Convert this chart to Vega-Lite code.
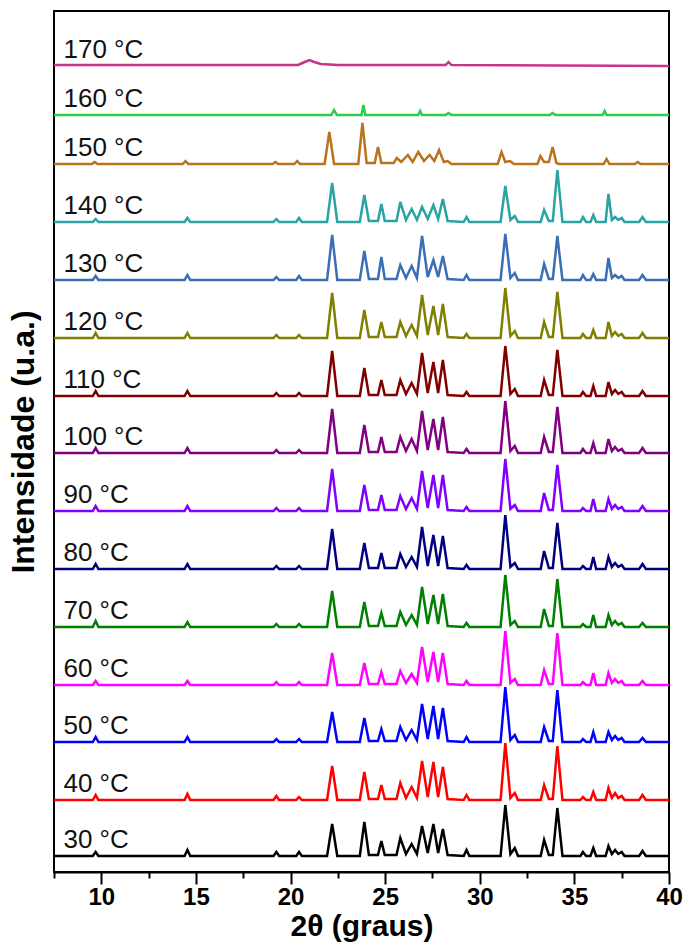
{
"$schema": "https://vega.github.io/schema/vega-lite/v6.json",
"width": 615, "height": 861,
"autosize": {"type": "none"},
"padding": {"left": 54, "top": 11, "right": 17, "bottom": 80},
"background": "white",
"config": {"view": {"stroke": "black", "strokeWidth": 2}, "font": "Liberation Sans"},
"datasets": {
"labels": [{"s":30,"t":"30 °C"},{"s":40,"t":"40 °C"},{"s":50,"t":"50 °C"},{"s":60,"t":"60 °C"},{"s":70,"t":"70 °C"},{"s":80,"t":"80 °C"},{"s":90,"t":"90 °C"},{"s":100,"t":"100 °C"},{"s":110,"t":"110 °C"},{"s":120,"t":"120 °C"},{"s":130,"t":"130 °C"},{"s":140,"t":"140 °C"},{"s":150,"t":"150 °C"},{"s":160,"t":"160 °C"},{"s":170,"t":"170 °C"}],
"xrd": [
{"s":30,"x":7.5,"y":16},{"s":30,"x":9.55,"y":16},{"s":30,"x":9.7,"y":20},{"s":30,"x":9.85,"y":16},{"s":30,"x":14.4,"y":16},{"s":30,"x":14.55,"y":22},{"s":30,"x":14.7,"y":16},{"s":30,"x":19.1,"y":16},{"s":30,"x":19.25,"y":20},{"s":30,"x":19.4,"y":16},{"s":30,"x":20.3,"y":16},{"s":30,"x":20.45,"y":20},{"s":30,"x":20.6,"y":16},{"s":30,"x":21.93,"y":16},{"s":30,"x":22.2,"y":48},{"s":30,"x":22.47,"y":16},{"s":30,"x":23.66,"y":16},{"s":30,"x":23.9,"y":50},{"s":30,"x":24.14,"y":17},{"s":30,"x":24.62,"y":17},{"s":30,"x":24.8,"y":31},{"s":30,"x":24.98,"y":17},{"s":30,"x":25.6,"y":17},{"s":30,"x":25.8,"y":34},{"s":30,"x":26.1,"y":18},{"s":30,"x":26.4,"y":28},{"s":30,"x":26.68,"y":18},{"s":30,"x":26.95,"y":46},{"s":30,"x":27.25,"y":19},{"s":30,"x":27.55,"y":48},{"s":30,"x":27.8,"y":19},{"s":30,"x":28.05,"y":43},{"s":30,"x":28.3,"y":17},{"s":30,"x":29.15,"y":16},{"s":30,"x":29.3,"y":22},{"s":30,"x":29.45,"y":16},{"s":30,"x":31.1,"y":16},{"s":30,"x":31.35,"y":67},{"s":30,"x":31.62,"y":18},{"s":30,"x":31.85,"y":24},{"s":30,"x":32.02,"y":16},{"s":30,"x":33.22,"y":16},{"s":30,"x":33.4,"y":32},{"s":30,"x":33.65,"y":17},{"s":30,"x":33.86,"y":17},{"s":30,"x":34.1,"y":64},{"s":30,"x":34.37,"y":16},{"s":30,"x":35.32,"y":16},{"s":30,"x":35.45,"y":20},{"s":30,"x":35.62,"y":16},{"s":30,"x":35.85,"y":16},{"s":30,"x":36.0,"y":24},{"s":30,"x":36.15,"y":16},{"s":30,"x":36.65,"y":16},{"s":30,"x":36.8,"y":26},{"s":30,"x":36.98,"y":18},{"s":30,"x":37.15,"y":22},{"s":30,"x":37.32,"y":18},{"s":30,"x":37.5,"y":20},{"s":30,"x":37.65,"y":16},{"s":30,"x":38.42,"y":16},{"s":30,"x":38.6,"y":21},{"s":30,"x":38.78,"y":16},{"s":30,"x":40,"y":16},
{"s":40,"x":7.5,"y":72},{"s":40,"x":9.55,"y":72},{"s":40,"x":9.7,"y":77},{"s":40,"x":9.85,"y":72},{"s":40,"x":14.4,"y":72},{"s":40,"x":14.55,"y":78},{"s":40,"x":14.7,"y":72},{"s":40,"x":19.1,"y":72},{"s":40,"x":19.25,"y":76},{"s":40,"x":19.4,"y":72},{"s":40,"x":20.3,"y":72},{"s":40,"x":20.45,"y":75},{"s":40,"x":20.6,"y":72},{"s":40,"x":21.93,"y":72},{"s":40,"x":22.2,"y":106},{"s":40,"x":22.47,"y":72},{"s":40,"x":23.66,"y":72},{"s":40,"x":23.9,"y":100},{"s":40,"x":24.14,"y":73},{"s":40,"x":24.62,"y":73},{"s":40,"x":24.8,"y":87},{"s":40,"x":24.98,"y":73},{"s":40,"x":25.6,"y":73},{"s":40,"x":25.8,"y":89},{"s":40,"x":26.1,"y":74},{"s":40,"x":26.4,"y":85},{"s":40,"x":26.68,"y":74},{"s":40,"x":26.95,"y":111},{"s":40,"x":27.25,"y":75},{"s":40,"x":27.55,"y":110},{"s":40,"x":27.8,"y":75},{"s":40,"x":28.05,"y":105},{"s":40,"x":28.3,"y":73},{"s":40,"x":29.15,"y":72},{"s":40,"x":29.3,"y":77},{"s":40,"x":29.45,"y":72},{"s":40,"x":31.1,"y":72},{"s":40,"x":31.35,"y":129},{"s":40,"x":31.62,"y":74},{"s":40,"x":31.85,"y":79},{"s":40,"x":32.02,"y":72},{"s":40,"x":33.22,"y":72},{"s":40,"x":33.4,"y":87},{"s":40,"x":33.65,"y":73},{"s":40,"x":33.86,"y":73},{"s":40,"x":34.1,"y":126},{"s":40,"x":34.37,"y":72},{"s":40,"x":35.32,"y":72},{"s":40,"x":35.45,"y":75},{"s":40,"x":35.62,"y":72},{"s":40,"x":35.85,"y":72},{"s":40,"x":36.0,"y":80},{"s":40,"x":36.15,"y":72},{"s":40,"x":36.65,"y":72},{"s":40,"x":36.8,"y":84},{"s":40,"x":36.98,"y":74},{"s":40,"x":37.15,"y":79},{"s":40,"x":37.32,"y":74},{"s":40,"x":37.5,"y":76},{"s":40,"x":37.65,"y":72},{"s":40,"x":38.42,"y":72},{"s":40,"x":38.6,"y":77},{"s":40,"x":38.78,"y":72},{"s":40,"x":40,"y":72},
{"s":50,"x":7.5,"y":130},{"s":50,"x":9.55,"y":130},{"s":50,"x":9.7,"y":135},{"s":50,"x":9.85,"y":130},{"s":50,"x":14.4,"y":130},{"s":50,"x":14.55,"y":135},{"s":50,"x":14.7,"y":130},{"s":50,"x":19.1,"y":130},{"s":50,"x":19.25,"y":133},{"s":50,"x":19.4,"y":130},{"s":50,"x":20.3,"y":130},{"s":50,"x":20.45,"y":133},{"s":50,"x":20.6,"y":130},{"s":50,"x":21.93,"y":130},{"s":50,"x":22.2,"y":160},{"s":50,"x":22.47,"y":130},{"s":50,"x":23.66,"y":130},{"s":50,"x":23.9,"y":154},{"s":50,"x":24.14,"y":131},{"s":50,"x":24.62,"y":131},{"s":50,"x":24.8,"y":143},{"s":50,"x":24.98,"y":131},{"s":50,"x":25.6,"y":131},{"s":50,"x":25.8,"y":145},{"s":50,"x":26.1,"y":132},{"s":50,"x":26.4,"y":142},{"s":50,"x":26.68,"y":132},{"s":50,"x":26.95,"y":168},{"s":50,"x":27.25,"y":133},{"s":50,"x":27.55,"y":166},{"s":50,"x":27.8,"y":133},{"s":50,"x":28.05,"y":164},{"s":50,"x":28.3,"y":131},{"s":50,"x":29.15,"y":130},{"s":50,"x":29.3,"y":135},{"s":50,"x":29.45,"y":130},{"s":50,"x":31.1,"y":130},{"s":50,"x":31.35,"y":185},{"s":50,"x":31.62,"y":132},{"s":50,"x":31.85,"y":137},{"s":50,"x":32.02,"y":130},{"s":50,"x":33.22,"y":130},{"s":50,"x":33.4,"y":145},{"s":50,"x":33.65,"y":131},{"s":50,"x":33.86,"y":131},{"s":50,"x":34.1,"y":182},{"s":50,"x":34.37,"y":130},{"s":50,"x":35.32,"y":130},{"s":50,"x":35.45,"y":133},{"s":50,"x":35.62,"y":130},{"s":50,"x":35.85,"y":130},{"s":50,"x":36.0,"y":140},{"s":50,"x":36.15,"y":130},{"s":50,"x":36.65,"y":130},{"s":50,"x":36.8,"y":140},{"s":50,"x":36.98,"y":132},{"s":50,"x":37.15,"y":136},{"s":50,"x":37.32,"y":132},{"s":50,"x":37.5,"y":134},{"s":50,"x":37.65,"y":130},{"s":50,"x":38.42,"y":130},{"s":50,"x":38.6,"y":134},{"s":50,"x":38.78,"y":130},{"s":50,"x":40,"y":130},
{"s":60,"x":7.5,"y":187},{"s":60,"x":9.55,"y":187},{"s":60,"x":9.7,"y":191},{"s":60,"x":9.85,"y":187},{"s":60,"x":14.4,"y":187},{"s":60,"x":14.55,"y":191},{"s":60,"x":14.7,"y":187},{"s":60,"x":19.1,"y":187},{"s":60,"x":19.25,"y":190},{"s":60,"x":19.4,"y":187},{"s":60,"x":20.3,"y":187},{"s":60,"x":20.45,"y":190},{"s":60,"x":20.6,"y":187},{"s":60,"x":21.93,"y":187},{"s":60,"x":22.2,"y":219},{"s":60,"x":22.47,"y":187},{"s":60,"x":23.66,"y":187},{"s":60,"x":23.9,"y":209},{"s":60,"x":24.14,"y":188},{"s":60,"x":24.62,"y":188},{"s":60,"x":24.8,"y":200},{"s":60,"x":24.98,"y":188},{"s":60,"x":25.6,"y":188},{"s":60,"x":25.8,"y":201},{"s":60,"x":26.1,"y":189},{"s":60,"x":26.4,"y":198},{"s":60,"x":26.68,"y":189},{"s":60,"x":26.95,"y":225},{"s":60,"x":27.25,"y":190},{"s":60,"x":27.55,"y":220},{"s":60,"x":27.8,"y":190},{"s":60,"x":28.05,"y":219},{"s":60,"x":28.3,"y":188},{"s":60,"x":29.15,"y":187},{"s":60,"x":29.3,"y":191},{"s":60,"x":29.45,"y":187},{"s":60,"x":31.1,"y":187},{"s":60,"x":31.35,"y":241},{"s":60,"x":31.62,"y":189},{"s":60,"x":31.85,"y":193},{"s":60,"x":32.02,"y":187},{"s":60,"x":33.22,"y":187},{"s":60,"x":33.4,"y":202},{"s":60,"x":33.65,"y":188},{"s":60,"x":33.86,"y":188},{"s":60,"x":34.1,"y":239},{"s":60,"x":34.37,"y":187},{"s":60,"x":35.32,"y":187},{"s":60,"x":35.45,"y":190},{"s":60,"x":35.62,"y":187},{"s":60,"x":35.85,"y":187},{"s":60,"x":36.0,"y":199},{"s":60,"x":36.15,"y":187},{"s":60,"x":36.65,"y":187},{"s":60,"x":36.8,"y":199},{"s":60,"x":36.98,"y":189},{"s":60,"x":37.15,"y":193},{"s":60,"x":37.32,"y":189},{"s":60,"x":37.5,"y":191},{"s":60,"x":37.65,"y":187},{"s":60,"x":38.42,"y":187},{"s":60,"x":38.6,"y":191},{"s":60,"x":38.78,"y":187},{"s":60,"x":40,"y":187},
{"s":70,"x":7.5,"y":245},{"s":70,"x":9.55,"y":245},{"s":70,"x":9.7,"y":251},{"s":70,"x":9.85,"y":245},{"s":70,"x":14.4,"y":245},{"s":70,"x":14.55,"y":250},{"s":70,"x":14.7,"y":245},{"s":70,"x":19.1,"y":245},{"s":70,"x":19.25,"y":248},{"s":70,"x":19.4,"y":245},{"s":70,"x":20.3,"y":245},{"s":70,"x":20.45,"y":248},{"s":70,"x":20.6,"y":245},{"s":70,"x":21.93,"y":245},{"s":70,"x":22.2,"y":281},{"s":70,"x":22.47,"y":245},{"s":70,"x":23.66,"y":245},{"s":70,"x":23.9,"y":270},{"s":70,"x":24.14,"y":246},{"s":70,"x":24.62,"y":246},{"s":70,"x":24.8,"y":259},{"s":70,"x":24.98,"y":246},{"s":70,"x":25.6,"y":246},{"s":70,"x":25.8,"y":260},{"s":70,"x":26.1,"y":247},{"s":70,"x":26.4,"y":257},{"s":70,"x":26.68,"y":247},{"s":70,"x":26.95,"y":285},{"s":70,"x":27.25,"y":248},{"s":70,"x":27.55,"y":277},{"s":70,"x":27.8,"y":248},{"s":70,"x":28.05,"y":278},{"s":70,"x":28.3,"y":246},{"s":70,"x":29.15,"y":245},{"s":70,"x":29.3,"y":249},{"s":70,"x":29.45,"y":245},{"s":70,"x":31.1,"y":245},{"s":70,"x":31.35,"y":297},{"s":70,"x":31.62,"y":247},{"s":70,"x":31.85,"y":251},{"s":70,"x":32.02,"y":245},{"s":70,"x":33.22,"y":245},{"s":70,"x":33.4,"y":263},{"s":70,"x":33.65,"y":246},{"s":70,"x":33.86,"y":246},{"s":70,"x":34.1,"y":293},{"s":70,"x":34.37,"y":245},{"s":70,"x":35.32,"y":245},{"s":70,"x":35.45,"y":248},{"s":70,"x":35.62,"y":245},{"s":70,"x":35.85,"y":245},{"s":70,"x":36.0,"y":257},{"s":70,"x":36.15,"y":245},{"s":70,"x":36.65,"y":245},{"s":70,"x":36.8,"y":257},{"s":70,"x":36.98,"y":247},{"s":70,"x":37.15,"y":251},{"s":70,"x":37.32,"y":247},{"s":70,"x":37.5,"y":249},{"s":70,"x":37.65,"y":245},{"s":70,"x":38.42,"y":245},{"s":70,"x":38.6,"y":249},{"s":70,"x":38.78,"y":245},{"s":70,"x":40,"y":245},
{"s":80,"x":7.5,"y":303},{"s":80,"x":9.55,"y":303},{"s":80,"x":9.7,"y":308},{"s":80,"x":9.85,"y":303},{"s":80,"x":14.4,"y":303},{"s":80,"x":14.55,"y":308},{"s":80,"x":14.7,"y":303},{"s":80,"x":19.1,"y":303},{"s":80,"x":19.25,"y":306},{"s":80,"x":19.4,"y":303},{"s":80,"x":20.3,"y":303},{"s":80,"x":20.45,"y":306},{"s":80,"x":20.6,"y":303},{"s":80,"x":21.93,"y":303},{"s":80,"x":22.2,"y":343},{"s":80,"x":22.47,"y":303},{"s":80,"x":23.66,"y":303},{"s":80,"x":23.9,"y":329},{"s":80,"x":24.14,"y":304},{"s":80,"x":24.62,"y":304},{"s":80,"x":24.8,"y":319},{"s":80,"x":24.98,"y":304},{"s":80,"x":25.6,"y":304},{"s":80,"x":25.8,"y":318},{"s":80,"x":26.1,"y":305},{"s":80,"x":26.4,"y":315},{"s":80,"x":26.68,"y":305},{"s":80,"x":26.95,"y":345},{"s":80,"x":27.25,"y":306},{"s":80,"x":27.55,"y":337},{"s":80,"x":27.8,"y":306},{"s":80,"x":28.05,"y":336},{"s":80,"x":28.3,"y":304},{"s":80,"x":29.15,"y":303},{"s":80,"x":29.3,"y":307},{"s":80,"x":29.45,"y":303},{"s":80,"x":31.1,"y":303},{"s":80,"x":31.35,"y":357},{"s":80,"x":31.62,"y":305},{"s":80,"x":31.85,"y":309},{"s":80,"x":32.02,"y":303},{"s":80,"x":33.22,"y":303},{"s":80,"x":33.4,"y":321},{"s":80,"x":33.65,"y":304},{"s":80,"x":33.86,"y":304},{"s":80,"x":34.1,"y":349},{"s":80,"x":34.37,"y":303},{"s":80,"x":35.32,"y":303},{"s":80,"x":35.45,"y":306},{"s":80,"x":35.62,"y":303},{"s":80,"x":35.85,"y":303},{"s":80,"x":36.0,"y":315},{"s":80,"x":36.15,"y":303},{"s":80,"x":36.65,"y":303},{"s":80,"x":36.8,"y":315},{"s":80,"x":36.98,"y":305},{"s":80,"x":37.15,"y":309},{"s":80,"x":37.32,"y":305},{"s":80,"x":37.5,"y":307},{"s":80,"x":37.65,"y":303},{"s":80,"x":38.42,"y":303},{"s":80,"x":38.6,"y":308},{"s":80,"x":38.78,"y":303},{"s":80,"x":40,"y":303},
{"s":90,"x":7.5,"y":361},{"s":90,"x":9.55,"y":361},{"s":90,"x":9.7,"y":366},{"s":90,"x":9.85,"y":361},{"s":90,"x":14.4,"y":361},{"s":90,"x":14.55,"y":366},{"s":90,"x":14.7,"y":361},{"s":90,"x":19.1,"y":361},{"s":90,"x":19.25,"y":364},{"s":90,"x":19.4,"y":361},{"s":90,"x":20.3,"y":361},{"s":90,"x":20.45,"y":364},{"s":90,"x":20.6,"y":361},{"s":90,"x":21.93,"y":361},{"s":90,"x":22.2,"y":403},{"s":90,"x":22.47,"y":361},{"s":90,"x":23.66,"y":361},{"s":90,"x":23.9,"y":387},{"s":90,"x":24.14,"y":362},{"s":90,"x":24.62,"y":362},{"s":90,"x":24.8,"y":377},{"s":90,"x":24.98,"y":362},{"s":90,"x":25.6,"y":362},{"s":90,"x":25.8,"y":376},{"s":90,"x":26.1,"y":363},{"s":90,"x":26.4,"y":374},{"s":90,"x":26.68,"y":363},{"s":90,"x":26.95,"y":401},{"s":90,"x":27.25,"y":364},{"s":90,"x":27.55,"y":397},{"s":90,"x":27.8,"y":364},{"s":90,"x":28.05,"y":397},{"s":90,"x":28.3,"y":362},{"s":90,"x":29.15,"y":361},{"s":90,"x":29.3,"y":365},{"s":90,"x":29.45,"y":361},{"s":90,"x":31.1,"y":361},{"s":90,"x":31.35,"y":413},{"s":90,"x":31.62,"y":363},{"s":90,"x":31.85,"y":367},{"s":90,"x":32.02,"y":361},{"s":90,"x":33.22,"y":361},{"s":90,"x":33.4,"y":379},{"s":90,"x":33.65,"y":362},{"s":90,"x":33.86,"y":362},{"s":90,"x":34.1,"y":407},{"s":90,"x":34.37,"y":361},{"s":90,"x":35.32,"y":361},{"s":90,"x":35.45,"y":364},{"s":90,"x":35.62,"y":361},{"s":90,"x":35.85,"y":361},{"s":90,"x":36.0,"y":373},{"s":90,"x":36.15,"y":361},{"s":90,"x":36.65,"y":361},{"s":90,"x":36.8,"y":373},{"s":90,"x":36.98,"y":363},{"s":90,"x":37.15,"y":367},{"s":90,"x":37.32,"y":363},{"s":90,"x":37.5,"y":365},{"s":90,"x":37.65,"y":361},{"s":90,"x":38.42,"y":361},{"s":90,"x":38.6,"y":366},{"s":90,"x":38.78,"y":361},{"s":90,"x":40,"y":361},
{"s":100,"x":7.5,"y":419},{"s":100,"x":9.55,"y":419},{"s":100,"x":9.7,"y":424},{"s":100,"x":9.85,"y":419},{"s":100,"x":14.4,"y":419},{"s":100,"x":14.55,"y":424},{"s":100,"x":14.7,"y":419},{"s":100,"x":19.1,"y":419},{"s":100,"x":19.25,"y":422},{"s":100,"x":19.4,"y":419},{"s":100,"x":20.3,"y":419},{"s":100,"x":20.45,"y":422},{"s":100,"x":20.6,"y":419},{"s":100,"x":21.93,"y":419},{"s":100,"x":22.2,"y":463},{"s":100,"x":22.47,"y":419},{"s":100,"x":23.66,"y":419},{"s":100,"x":23.9,"y":447},{"s":100,"x":24.14,"y":420},{"s":100,"x":24.62,"y":420},{"s":100,"x":24.8,"y":435},{"s":100,"x":24.98,"y":420},{"s":100,"x":25.6,"y":420},{"s":100,"x":25.8,"y":435},{"s":100,"x":26.1,"y":421},{"s":100,"x":26.4,"y":433},{"s":100,"x":26.68,"y":421},{"s":100,"x":26.95,"y":461},{"s":100,"x":27.25,"y":422},{"s":100,"x":27.55,"y":453},{"s":100,"x":27.8,"y":422},{"s":100,"x":28.05,"y":455},{"s":100,"x":28.3,"y":420},{"s":100,"x":29.15,"y":419},{"s":100,"x":29.3,"y":423},{"s":100,"x":29.45,"y":419},{"s":100,"x":31.1,"y":419},{"s":100,"x":31.35,"y":471},{"s":100,"x":31.62,"y":421},{"s":100,"x":31.85,"y":426},{"s":100,"x":32.02,"y":419},{"s":100,"x":33.22,"y":419},{"s":100,"x":33.4,"y":435},{"s":100,"x":33.65,"y":420},{"s":100,"x":33.86,"y":420},{"s":100,"x":34.1,"y":465},{"s":100,"x":34.37,"y":419},{"s":100,"x":35.32,"y":419},{"s":100,"x":35.45,"y":423},{"s":100,"x":35.62,"y":419},{"s":100,"x":35.85,"y":419},{"s":100,"x":36.0,"y":429},{"s":100,"x":36.15,"y":419},{"s":100,"x":36.65,"y":419},{"s":100,"x":36.8,"y":433},{"s":100,"x":36.98,"y":421},{"s":100,"x":37.15,"y":425},{"s":100,"x":37.32,"y":421},{"s":100,"x":37.5,"y":423},{"s":100,"x":37.65,"y":419},{"s":100,"x":38.42,"y":419},{"s":100,"x":38.6,"y":424},{"s":100,"x":38.78,"y":419},{"s":100,"x":40,"y":419},
{"s":110,"x":7.5,"y":476},{"s":110,"x":9.55,"y":476},{"s":110,"x":9.7,"y":481},{"s":110,"x":9.85,"y":476},{"s":110,"x":14.4,"y":476},{"s":110,"x":14.55,"y":481},{"s":110,"x":14.7,"y":476},{"s":110,"x":19.1,"y":476},{"s":110,"x":19.25,"y":479},{"s":110,"x":19.4,"y":476},{"s":110,"x":20.3,"y":476},{"s":110,"x":20.45,"y":479},{"s":110,"x":20.6,"y":476},{"s":110,"x":21.93,"y":476},{"s":110,"x":22.2,"y":521},{"s":110,"x":22.47,"y":476},{"s":110,"x":23.66,"y":476},{"s":110,"x":23.9,"y":504},{"s":110,"x":24.14,"y":477},{"s":110,"x":24.62,"y":477},{"s":110,"x":24.8,"y":492},{"s":110,"x":24.98,"y":477},{"s":110,"x":25.6,"y":477},{"s":110,"x":25.8,"y":492},{"s":110,"x":26.1,"y":478},{"s":110,"x":26.4,"y":489},{"s":110,"x":26.68,"y":478},{"s":110,"x":26.95,"y":519},{"s":110,"x":27.25,"y":479},{"s":110,"x":27.55,"y":510},{"s":110,"x":27.8,"y":479},{"s":110,"x":28.05,"y":512},{"s":110,"x":28.3,"y":477},{"s":110,"x":29.15,"y":476},{"s":110,"x":29.3,"y":480},{"s":110,"x":29.45,"y":476},{"s":110,"x":31.1,"y":476},{"s":110,"x":31.35,"y":526},{"s":110,"x":31.62,"y":478},{"s":110,"x":31.85,"y":483},{"s":110,"x":32.02,"y":476},{"s":110,"x":33.22,"y":476},{"s":110,"x":33.4,"y":492},{"s":110,"x":33.65,"y":477},{"s":110,"x":33.86,"y":477},{"s":110,"x":34.1,"y":522},{"s":110,"x":34.37,"y":476},{"s":110,"x":35.32,"y":476},{"s":110,"x":35.45,"y":480},{"s":110,"x":35.62,"y":476},{"s":110,"x":35.85,"y":476},{"s":110,"x":36.0,"y":486},{"s":110,"x":36.15,"y":476},{"s":110,"x":36.65,"y":476},{"s":110,"x":36.8,"y":490},{"s":110,"x":36.98,"y":478},{"s":110,"x":37.15,"y":482},{"s":110,"x":37.32,"y":478},{"s":110,"x":37.5,"y":480},{"s":110,"x":37.65,"y":476},{"s":110,"x":38.42,"y":476},{"s":110,"x":38.6,"y":481},{"s":110,"x":38.78,"y":476},{"s":110,"x":40,"y":476},
{"s":120,"x":7.5,"y":534},{"s":120,"x":9.55,"y":534},{"s":120,"x":9.7,"y":539},{"s":120,"x":9.85,"y":534},{"s":120,"x":14.4,"y":534},{"s":120,"x":14.55,"y":539},{"s":120,"x":14.7,"y":534},{"s":120,"x":19.1,"y":534},{"s":120,"x":19.25,"y":537},{"s":120,"x":19.4,"y":534},{"s":120,"x":20.3,"y":534},{"s":120,"x":20.45,"y":537},{"s":120,"x":20.6,"y":534},{"s":120,"x":21.93,"y":534},{"s":120,"x":22.2,"y":579},{"s":120,"x":22.47,"y":534},{"s":120,"x":23.66,"y":534},{"s":120,"x":23.9,"y":562},{"s":120,"x":24.14,"y":535},{"s":120,"x":24.62,"y":535},{"s":120,"x":24.8,"y":550},{"s":120,"x":24.98,"y":535},{"s":120,"x":25.6,"y":535},{"s":120,"x":25.8,"y":550},{"s":120,"x":26.1,"y":536},{"s":120,"x":26.4,"y":547},{"s":120,"x":26.68,"y":536},{"s":120,"x":26.95,"y":577},{"s":120,"x":27.25,"y":537},{"s":120,"x":27.55,"y":566},{"s":120,"x":27.8,"y":537},{"s":120,"x":28.05,"y":568},{"s":120,"x":28.3,"y":535},{"s":120,"x":29.15,"y":534},{"s":120,"x":29.3,"y":538},{"s":120,"x":29.45,"y":534},{"s":120,"x":31.1,"y":534},{"s":120,"x":31.35,"y":584},{"s":120,"x":31.62,"y":536},{"s":120,"x":31.85,"y":541},{"s":120,"x":32.02,"y":534},{"s":120,"x":33.22,"y":534},{"s":120,"x":33.4,"y":550},{"s":120,"x":33.65,"y":535},{"s":120,"x":33.86,"y":535},{"s":120,"x":34.1,"y":580},{"s":120,"x":34.37,"y":534},{"s":120,"x":35.32,"y":534},{"s":120,"x":35.45,"y":538},{"s":120,"x":35.62,"y":534},{"s":120,"x":35.85,"y":534},{"s":120,"x":36.0,"y":542},{"s":120,"x":36.15,"y":534},{"s":120,"x":36.65,"y":534},{"s":120,"x":36.8,"y":550},{"s":120,"x":36.98,"y":536},{"s":120,"x":37.15,"y":540},{"s":120,"x":37.32,"y":536},{"s":120,"x":37.5,"y":538},{"s":120,"x":37.65,"y":534},{"s":120,"x":38.42,"y":534},{"s":120,"x":38.6,"y":539},{"s":120,"x":38.78,"y":534},{"s":120,"x":40,"y":534},
{"s":130,"x":7.5,"y":592},{"s":130,"x":9.55,"y":592},{"s":130,"x":9.7,"y":596},{"s":130,"x":9.85,"y":592},{"s":130,"x":14.4,"y":592},{"s":130,"x":14.55,"y":597},{"s":130,"x":14.7,"y":592},{"s":130,"x":19.1,"y":592},{"s":130,"x":19.25,"y":595},{"s":130,"x":19.4,"y":592},{"s":130,"x":20.3,"y":592},{"s":130,"x":20.45,"y":596},{"s":130,"x":20.6,"y":592},{"s":130,"x":21.93,"y":592},{"s":130,"x":22.2,"y":637},{"s":130,"x":22.47,"y":592},{"s":130,"x":23.66,"y":592},{"s":130,"x":23.9,"y":621},{"s":130,"x":24.14,"y":593},{"s":130,"x":24.62,"y":593},{"s":130,"x":24.8,"y":615},{"s":130,"x":24.98,"y":593},{"s":130,"x":25.6,"y":593},{"s":130,"x":25.8,"y":607},{"s":130,"x":26.1,"y":594},{"s":130,"x":26.4,"y":606},{"s":130,"x":26.68,"y":594},{"s":130,"x":26.95,"y":636},{"s":130,"x":27.25,"y":595},{"s":130,"x":27.55,"y":612},{"s":130,"x":27.8,"y":595},{"s":130,"x":28.05,"y":616},{"s":130,"x":28.3,"y":593},{"s":130,"x":29.15,"y":592},{"s":130,"x":29.3,"y":597},{"s":130,"x":29.45,"y":592},{"s":130,"x":31.1,"y":592},{"s":130,"x":31.35,"y":638},{"s":130,"x":31.62,"y":594},{"s":130,"x":31.85,"y":599},{"s":130,"x":32.02,"y":592},{"s":130,"x":33.22,"y":592},{"s":130,"x":33.4,"y":608},{"s":130,"x":33.65,"y":593},{"s":130,"x":33.86,"y":593},{"s":130,"x":34.1,"y":636},{"s":130,"x":34.37,"y":592},{"s":130,"x":35.32,"y":592},{"s":130,"x":35.45,"y":597},{"s":130,"x":35.62,"y":592},{"s":130,"x":35.85,"y":592},{"s":130,"x":36.0,"y":598},{"s":130,"x":36.15,"y":592},{"s":130,"x":36.65,"y":592},{"s":130,"x":36.8,"y":614},{"s":130,"x":36.98,"y":594},{"s":130,"x":37.15,"y":597},{"s":130,"x":37.32,"y":594},{"s":130,"x":37.5,"y":596},{"s":130,"x":37.65,"y":592},{"s":130,"x":38.42,"y":592},{"s":130,"x":38.6,"y":597},{"s":130,"x":38.78,"y":592},{"s":130,"x":40,"y":592},
{"s":140,"x":7.5,"y":650},{"s":140,"x":9.55,"y":650},{"s":140,"x":9.7,"y":653},{"s":140,"x":9.85,"y":650},{"s":140,"x":14.4,"y":650},{"s":140,"x":14.55,"y":654},{"s":140,"x":14.7,"y":650},{"s":140,"x":19.1,"y":650},{"s":140,"x":19.25,"y":653},{"s":140,"x":19.4,"y":650},{"s":140,"x":20.3,"y":650},{"s":140,"x":20.45,"y":654},{"s":140,"x":20.6,"y":650},{"s":140,"x":21.93,"y":650},{"s":140,"x":22.2,"y":689},{"s":140,"x":22.47,"y":650},{"s":140,"x":23.66,"y":650},{"s":140,"x":23.9,"y":677},{"s":140,"x":24.14,"y":651},{"s":140,"x":24.62,"y":651},{"s":140,"x":24.8,"y":668},{"s":140,"x":24.98,"y":651},{"s":140,"x":25.6,"y":651},{"s":140,"x":25.8,"y":670},{"s":140,"x":26.1,"y":652},{"s":140,"x":26.4,"y":663},{"s":140,"x":26.68,"y":652},{"s":140,"x":26.95,"y":665},{"s":140,"x":27.25,"y":653},{"s":140,"x":27.55,"y":667},{"s":140,"x":27.8,"y":653},{"s":140,"x":28.05,"y":673},{"s":140,"x":28.3,"y":651},{"s":140,"x":29.15,"y":650},{"s":140,"x":29.3,"y":655},{"s":140,"x":29.45,"y":650},{"s":140,"x":31.1,"y":650},{"s":140,"x":31.35,"y":686},{"s":140,"x":31.62,"y":652},{"s":140,"x":31.85,"y":656},{"s":140,"x":32.02,"y":650},{"s":140,"x":33.22,"y":650},{"s":140,"x":33.4,"y":662},{"s":140,"x":33.65,"y":651},{"s":140,"x":33.86,"y":651},{"s":140,"x":34.1,"y":702},{"s":140,"x":34.37,"y":650},{"s":140,"x":35.32,"y":650},{"s":140,"x":35.45,"y":655},{"s":140,"x":35.62,"y":650},{"s":140,"x":35.85,"y":650},{"s":140,"x":36.0,"y":657},{"s":140,"x":36.15,"y":650},{"s":140,"x":36.65,"y":650},{"s":140,"x":36.8,"y":678},{"s":140,"x":36.98,"y":652},{"s":140,"x":37.15,"y":655},{"s":140,"x":37.32,"y":652},{"s":140,"x":37.5,"y":654},{"s":140,"x":37.65,"y":650},{"s":140,"x":38.42,"y":650},{"s":140,"x":38.6,"y":655},{"s":140,"x":38.78,"y":650},{"s":140,"x":40,"y":650},
{"s":150,"x":7.5,"y":708},{"s":150,"x":9.5,"y":708},{"s":150,"x":9.65,"y":710},{"s":150,"x":9.8,"y":708},{"s":150,"x":14.3,"y":708},{"s":150,"x":14.45,"y":711},{"s":150,"x":14.6,"y":708},{"s":150,"x":19.05,"y":708},{"s":150,"x":19.2,"y":710},{"s":150,"x":19.35,"y":708},{"s":150,"x":20.2,"y":708},{"s":150,"x":20.35,"y":711},{"s":150,"x":20.5,"y":708},{"s":150,"x":21.8,"y":708},{"s":150,"x":22.05,"y":740},{"s":150,"x":22.3,"y":708},{"s":150,"x":23.58,"y":708},{"s":150,"x":23.8,"y":749},{"s":150,"x":24.02,"y":709},{"s":150,"x":24.45,"y":709},{"s":150,"x":24.62,"y":725},{"s":150,"x":24.8,"y":709},{"s":150,"x":25.45,"y":709},{"s":150,"x":25.62,"y":714},{"s":150,"x":25.85,"y":710},{"s":150,"x":26.2,"y":717},{"s":150,"x":26.45,"y":710},{"s":150,"x":26.75,"y":720},{"s":150,"x":27.05,"y":711},{"s":150,"x":27.35,"y":717},{"s":150,"x":27.6,"y":711},{"s":150,"x":27.85,"y":722},{"s":150,"x":28.1,"y":710},{"s":150,"x":28.3,"y":711},{"s":150,"x":28.5,"y":708},{"s":150,"x":30.95,"y":708},{"s":150,"x":31.15,"y":720},{"s":150,"x":31.35,"y":710},{"s":150,"x":31.6,"y":711},{"s":150,"x":31.8,"y":708},{"s":150,"x":33.05,"y":708},{"s":150,"x":33.2,"y":716},{"s":150,"x":33.4,"y":710},{"s":150,"x":33.65,"y":710},{"s":150,"x":33.85,"y":725},{"s":150,"x":34.05,"y":709},{"s":150,"x":34.2,"y":708},{"s":150,"x":36.55,"y":708},{"s":150,"x":36.7,"y":713},{"s":150,"x":36.85,"y":708},{"s":150,"x":38.2,"y":708},{"s":150,"x":38.35,"y":710},{"s":150,"x":38.5,"y":708},{"s":150,"x":40,"y":708},
{"s":160,"x":7.5,"y":757},{"s":160,"x":22.15,"y":757},{"s":160,"x":22.3,"y":762},{"s":160,"x":22.45,"y":757},{"s":160,"x":23.75,"y":757},{"s":160,"x":23.85,"y":767},{"s":160,"x":23.95,"y":757},{"s":160,"x":26.75,"y":757},{"s":160,"x":26.85,"y":761},{"s":160,"x":26.95,"y":757},{"s":160,"x":28.2,"y":757},{"s":160,"x":28.35,"y":759},{"s":160,"x":28.5,"y":757},{"s":160,"x":33.7,"y":757},{"s":160,"x":33.85,"y":759},{"s":160,"x":34.0,"y":757},{"s":160,"x":36.5,"y":757},{"s":160,"x":36.6,"y":761},{"s":160,"x":36.7,"y":757},{"s":160,"x":40,"y":757},
{"s":170,"x":7.5,"y":807},{"s":170,"x":20.4,"y":807},{"s":170,"x":20.75,"y":810},{"s":170,"x":21.0,"y":812},{"s":170,"x":21.25,"y":810},{"s":170,"x":21.6,"y":808},{"s":170,"x":22.5,"y":807},{"s":170,"x":28.2,"y":807},{"s":170,"x":28.35,"y":810},{"s":170,"x":28.5,"y":807},{"s":170,"x":40,"y":806}
]
},
"data": {"name": "xrd"},
"layer": [
{
"mark": {"type": "line", "strokeWidth": 2.5, "clip": true},
"encoding": {
"x": {"field": "x", "type": "quantitative", "scale": {"domain": [7.5, 40], "nice": false, "zero": false},
"axis": {"title": "2θ (graus)", "values": [7.5,10,12.5,15,17.5,20,22.5,25,27.5,30,32.5,35,37.5,40],
"labelExpr": "datum.value % 5 === 0 ? datum.label : ''",
"tickSize": {"condition": {"test": "datum.value % 5 === 0", "value": 12}, "value": 6},
"tickColor": "black", "tickWidth": 2, "domainColor": "black", "domainWidth": 2, "grid": false,
"labelFont": "Liberation Sans", "labelFontSize": 24, "labelFontWeight": "bold", "labelColor": "black", "labelPadding": 1, "labelFlush": false, "labelOverlap": false,
"titleFont": "Liberation Sans", "titleFontSize": 30, "titleFontWeight": "bold", "titleColor": "black", "titlePadding": 2}},
"y": {"field": "y", "type": "quantitative", "scale": {"domain": [0, 861], "nice": false, "zero": false},
"axis": {"title": "Intensidade (u.a.)", "labels": false, "ticks": false, "domain": false, "grid": false,
"titleFont": "Liberation Sans", "titleFontSize": 32, "titleFontWeight": "bold", "titleColor": "black", "titlePadding": 14}},
"color": {"field": "s", "type": "nominal",
"scale": {"domain": [30,40,50,60,70,80,90,100,110,120,130,140,150,160,170],
"range": ["#000000","#ff0000","#0000ff","#ff00ff","#008000","#000080","#8000ff","#800080","#800000","#808000","#3a6eb5","#2aa3a3","#b8731c","#2ecc4a","#c8338a"]},
"legend": null}
}
},
{
"transform": [
{"aggregate": [{"op": "min", "field": "y", "as": "b"}], "groupby": ["s"]},
{"lookup": "s", "from": {"data": {"name": "labels"}, "key": "s", "fields": ["t"]}}
],
"mark": {"type": "text", "align": "left", "baseline": "alphabetic", "dy": -8, "fontSize": 26, "font": "Liberation Sans", "color": "#111111"},
"encoding": {
"x": {"datum": 8.0},
"y": {"field": "b", "type": "quantitative"},
"text": {"field": "t"}
}
}
]
}
